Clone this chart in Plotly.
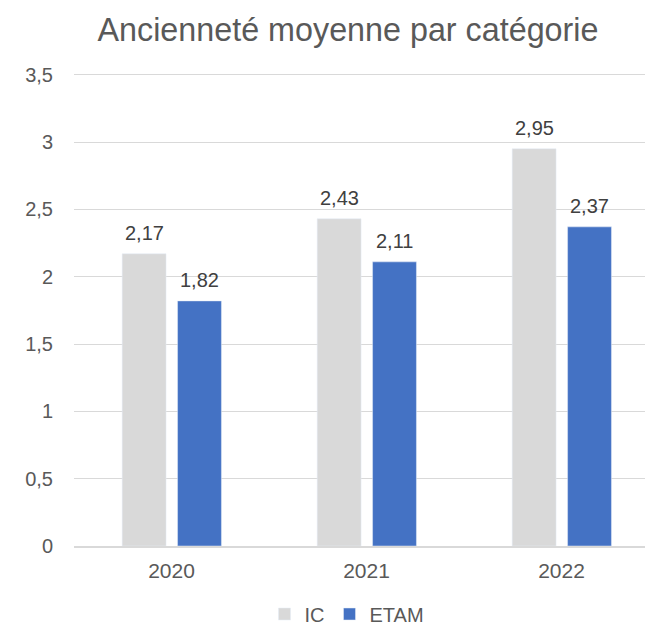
import plotly.graph_objects as go

categories = ["2020", "2021", "2022"]
ic_values = [2.17, 2.43, 2.95]
etam_values = [1.82, 2.11, 2.37]
y_ticks = [0, 0.5, 1, 1.5, 2, 2.5, 3, 3.5]

W, H = 645, 627
FONT = "Liberation Sans, Arial, sans-serif"
BAR_W = 0.225
IC_OFF, ETAM_OFF = -0.253, 0.031
CAT_PX = 195  # pixels per category

fig = go.Figure()
fig.add_trace(go.Bar(
    name="IC", x=categories, y=ic_values,
    marker=dict(color="#D9D9D9"),
    width=BAR_W, offset=IC_OFF,
))
fig.add_trace(go.Bar(
    name="ETAM", x=categories, y=etam_values,
    marker=dict(color="#4472C4"),
    width=BAR_W, offset=ETAM_OFF,
))

# data labels above bars
for vals, off in ((ic_values, IC_OFF), (etam_values, ETAM_OFF)):
    for i, v in enumerate(vals):
        fig.add_annotation(
            x=i + off + BAR_W / 2, y=v, xref="x", yref="y",
            text=f"{v:.2f}".replace(".", ","),
            showarrow=False, yanchor="bottom", xanchor="center",
            yshift=8,
            font=dict(family=FONT, size=20, color="#404040"),
        )

fig.update_layout(
    width=W, height=H,
    separators=", ",
    paper_bgcolor="white", plot_bgcolor="white",
    margin=dict(l=74, r=0, t=72, b=81, pad=0),
    barmode="group",
    font=dict(family=FONT, size=20, color="#595959"),
    title=dict(
        text="Ancienneté moyenne par catégorie",
        font=dict(family=FONT, size=32.3, color="#595959"),
        xref="container", yref="container",
        x=348 / W, xanchor="center",
        y=1 - 30 / H, yanchor="middle",
    ),
    xaxis=dict(
        type="category",
        range=[-0.5, 2.428],
        showgrid=False,
        showline=True, linecolor="#D9D9D9", linewidth=1.5,
        ticks="", tickfont=dict(family=FONT, size=21, color="#595959"),
        ticklabelstandoff=5,
    ),
    yaxis=dict(
        range=[0, 3.52],
        tickvals=y_ticks,
        showgrid=True, gridcolor="#D9D9D9", gridwidth=1,
        zeroline=False, showline=False,
        ticks="", tickfont=dict(family=FONT, size=20, color="#595959"),
        ticklabelstandoff=20,
    ),
    legend=dict(
        orientation="h",
        xref="container", yref="container",
        x=347 / W, xanchor="center",
        y=1 - 614 / H, yanchor="middle",
        font=dict(family=FONT, size=20, color="#595959"),
        itemwidth=30,
    ),
    showlegend=True,
)

fig.write_html(
    "out.html",
    config={"displayModeBar": False},
    post_script="document.body.style.margin='0px';document.body.style.overflow='hidden';",
)
